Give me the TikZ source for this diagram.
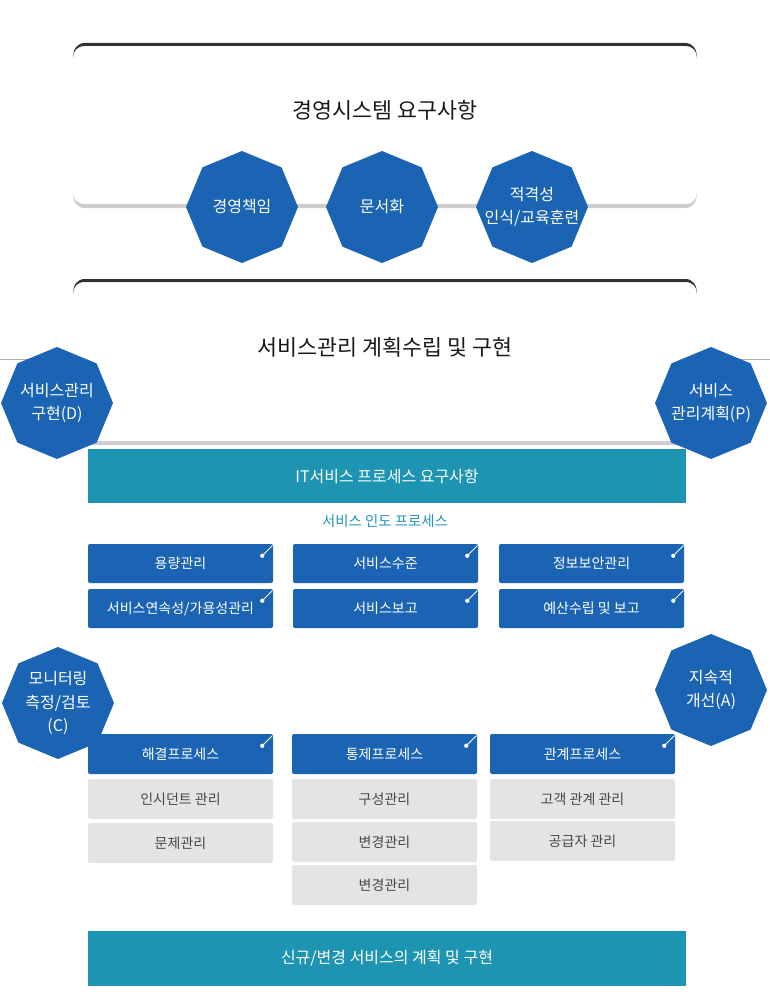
\documentclass[tikz,border=0pt]{standalone}
\usepackage{fontspec}
\setmainfont{Noto Sans CJK KR}
\usetikzlibrary{shapes.geometric}

\definecolor{octblue}{RGB}{27,100,179}
\definecolor{barteal}{RGB}{29,148,177}
\definecolor{cellgray}{RGB}{228,228,228}
\definecolor{rulegray}{RGB}{206,206,206}
\definecolor{topdark}{RGB}{51,51,51}

\begin{document}
\begin{tikzpicture}[x=0.75pt, y=-0.75pt,
    octa/.style={regular polygon, regular polygon sides=8, shape border rotate=22.5,
      minimum size=84pt, inner sep=-12pt, fill=octblue, text=white, align=center,
      font=\fontsize{12pt}{17.5pt}\selectfont},
    bar/.style={fill=barteal, text=white, minimum width=448.5pt, minimum height=41pt,
      inner sep=0pt, font=\fontsize{12pt}{14pt}\selectfont},
    bluebox/.style={fill=octblue, text=white, minimum width=138.75pt, minimum height=29.25pt,
      inner sep=0pt, rounded corners=1.5pt, font=\fontsize{10.5pt}{12pt}\selectfont},
    graybox/.style={fill=cellgray, text=black!72, minimum width=138.75pt, minimum height=30pt,
      inner sep=0pt, rounded corners=1.5pt, font=\fontsize{10.5pt}{12pt}\selectfont},
    headline/.style={text=black!90, font=\fontsize{16.3pt}{18pt}\selectfont}]
      \useasboundingbox (0,0) rectangle (770,995);

      \fill[topdark] (73,58) .. controls (73,49) and (77,43) .. (85,43) -- (685,43)
        .. controls (693,43) and (697,49) .. (697,58) .. controls (697,51) and (693,46) .. (685,46)
        -- (85,46) .. controls (77,46) and (73,51) .. (73,58) -- cycle;
      \fill[rulegray] (73,193) .. controls (73,202) and (77,208) .. (85,208) -- (685,208)
        .. controls (693,208) and (697,202) .. (697,193) .. controls (697,199) and (693,204) .. (685,204)
        -- (85,204) .. controls (77,204) and (73,199) .. (73,193) -- cycle;
      \node[headline] (sysreq) at (385,110) {경영시스템 요구사항};

      \fill[topdark] (73,294) .. controls (73,285) and (77,279) .. (85,279) -- (685,279)
        .. controls (693,279) and (697,285) .. (697,294) .. controls (697,287) and (693,282) .. (685,282)
        -- (85,282) .. controls (77,282) and (73,287) .. (73,294) -- cycle;
      \fill[rulegray] (73,430) .. controls (73,439) and (77,445) .. (85,445) -- (685,445)
        .. controls (693,445) and (697,439) .. (697,430) .. controls (697,436) and (693,441) .. (685,441)
        -- (85,441) .. controls (77,441) and (73,436) .. (73,430) -- cycle;
      \draw[rulegray!85!black, line width=0.75pt] (0,359) -- (73,359);
      \draw[rulegray!85!black, line width=0.75pt] (697,359) -- (770,359);
      \node[headline] (svcplan) at (385,347) {서비스관리 계획수립 및 구현};

      \node[octa] (resp) at (242,207) {경영책임};
      \node[octa] (docu) at (382,207) {문서화};
      \node[octa] (comp) at (532,207) {적격성\\인식/교육훈련};

      \node[octa] (impl) at (57,403) {서비스관리\\구현(D)};
      \node[octa] (plan) at (711,403) {서비스\\관리계획(P)};
      \node[octa] (chk) at (58,703) {모니터링\\측정/검토\\(C)};
      \node[octa] (act) at (711,690) {지속적\\개선(A)};

      \node[bar] (itreq) at (387,476) {IT서비스 프로세스 요구사항};
      \node[text=barteal, font=\fontsize{10.8pt}{12pt}\selectfont] (deliv) at (385,521) {서비스 인도 프로세스};

      \node[bluebox] (cap) at (180.5,563.5) {용량관리};
      \node[bluebox] (lvl) at (385.5,563.5) {서비스수준};
      \node[bluebox] (isec) at (591.5,563.5) {정보보안관리};
      \node[bluebox] (cont) at (180.5,608.5) {서비스연속성/가용성관리};
      \node[bluebox] (srep) at (385.5,608.5) {서비스보고};
      \node[bluebox] (bud) at (591.5,608.5) {예산수립 및 보고};

      \node[bluebox, minimum height=30pt] (res) at (180.5,754) {해결프로세스};
      \node[bluebox, minimum height=30pt] (ctl) at (384.5,754) {통제프로세스};
      \node[bluebox, minimum height=30pt] (rel) at (582.5,754) {관계프로세스};

      \node[graybox] (inc) at (180.5,799) {인시던트 관리};
      \node[graybox] (prb) at (180.5,843) {문제관리};
      \node[graybox] (cfg) at (384.5,799) {구성관리};
      \node[graybox] (chg) at (384.5,842) {변경관리};
      \node[graybox] (chgb) at (384.5,885) {변경관리};
      \node[graybox] (crm) at (582.5,799) {고객 관계 관리};
      \node[graybox] (supl) at (582.5,841) {공급자 관리};

      \foreach \b in {cap,lvl,isec,cont,srep,bud,res,ctl,rel} {
        \fill[white] ([shift={(-11,12)}]\b.north east) circle (1.6pt);
        \draw[white, line width=0.75pt] ([shift={(-11,12)}]\b.north east) -- ([shift={(-1,2)}]\b.north east);
      }

      \node[bar] (newsvc) at (387,958.5) {신규/변경 서비스의 계획 및 구현};
    \end{tikzpicture}
\end{document}
